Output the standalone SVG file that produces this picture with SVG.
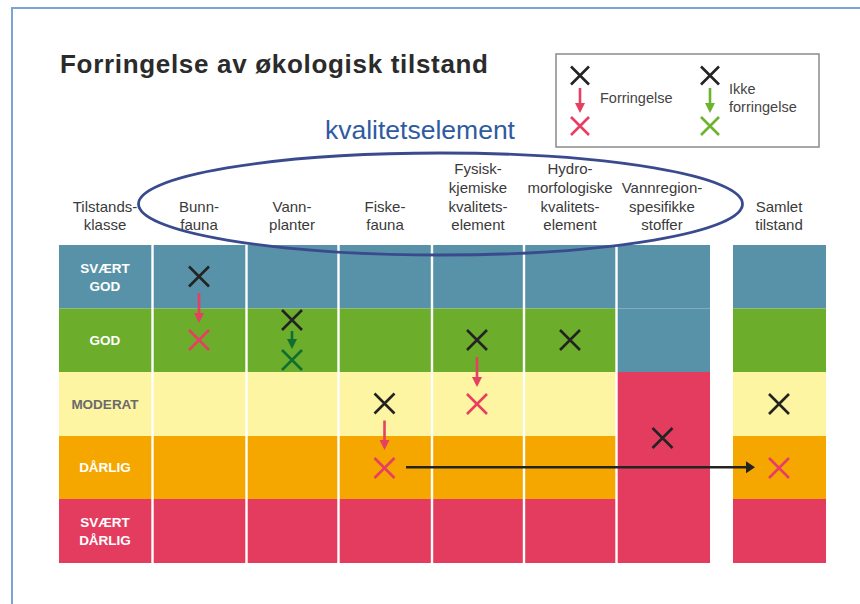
<svg xmlns="http://www.w3.org/2000/svg" width="860" height="604" viewBox="0 0 860 604">
<style>
.hdr{font-family:"Liberation Sans",Arial,sans-serif;font-size:15px;fill:#3a3a3a;text-anchor:middle}
.lbl{font-family:"Liberation Sans",Arial,sans-serif;font-size:13.5px;font-weight:bold;fill:#ffffff;text-anchor:middle}
.lbl.mod{fill:#6b6b6b}
.leg{font-family:"Liberation Sans",Arial,sans-serif;font-size:14.5px;fill:#444444}
.xk{fill:none;stroke:#232323;stroke-width:2.6}
.xr{fill:none;stroke:#e63f62;stroke-width:2.6}
.xg{fill:none;stroke:#0f6e30;stroke-width:2.6}
.xlg{fill:none;stroke:#6cb42c;stroke-width:2.6}
.ar{stroke:#e63f62;stroke-width:2.6;fill:none}
.ag{stroke:#0f6e30;stroke-width:2.6;fill:none}
.alg{stroke:#6cb42c;stroke-width:2.6;fill:none}
.sep{stroke:#ffffff;stroke-width:2.4}
.b{fill:#5892a8}.g{fill:#6cae2b}.y{fill:#fdf5a1}.o{fill:#f5a700}.r{fill:#e43c5e}
</style>
<defs>
<path id="xm" d="M-10,-10 L10,10 M10,-10 L-10,10"/>
<path id="xs" d="M-9,-9 L9,9 M9,-9 L-9,9"/>
<marker id="hr" viewBox="0 0 10 10" refX="7" refY="5" markerWidth="10" markerHeight="10" markerUnits="userSpaceOnUse" orient="auto"><path d="M0,0 L10,5 L0,10 Z" fill="#e63f62"/></marker>
<marker id="hg" viewBox="0 0 10 10" refX="7" refY="5" markerWidth="10" markerHeight="10" markerUnits="userSpaceOnUse" orient="auto"><path d="M0,0 L10,5 L0,10 Z" fill="#0f6e30"/></marker>
<marker id="hlg" viewBox="0 0 10 10" refX="7" refY="5" markerWidth="10" markerHeight="10" markerUnits="userSpaceOnUse" orient="auto"><path d="M0,0 L10,5 L0,10 Z" fill="#6cb42c"/></marker>
<marker id="hk" viewBox="0 0 9 12" refX="6" refY="6" markerWidth="9" markerHeight="12" markerUnits="userSpaceOnUse" orient="auto"><path d="M0,0 L9,6 L0,12 Z" fill="#232323"/></marker>
</defs>

<rect width="860" height="604" fill="#ffffff"/>
<rect x="12" y="8" width="900" height="700" fill="none" stroke="#7aa3d6" stroke-width="2"/>

<text x="60" y="73" font-family="'Liberation Sans',Arial,sans-serif" font-size="26" font-weight="bold" fill="#2b2b2b" textLength="428" lengthAdjust="spacing">Forringelse av økologisk tilstand</text>

<g id="legend">
<rect x="556" y="54" width="263" height="93" fill="#ffffff" stroke="#8a8a8a" stroke-width="1.5"/>
<use href="#xs" x="580" y="75.5" class="xk"/>
<line x1="580" y1="88" x2="580" y2="110" class="ar" marker-end="url(#hr)"/>
<use href="#xs" x="580" y="126" class="xr"/>
<text x="600" y="103" class="leg">Forringelse</text>
<use href="#xs" x="710" y="75.5" class="xk"/>
<line x1="710" y1="88" x2="710" y2="110" class="alg" marker-end="url(#hlg)"/>
<use href="#xs" x="710" y="126" class="xlg"/>
<text x="729" y="94" class="leg">Ikke</text>
<text x="729" y="112" class="leg">forringelse</text>
</g>

<g id="headers">
<text class="hdr" x="105" y="212">Tilstands-</text>
<text class="hdr" x="105" y="230">klasse</text>
<text class="hdr" x="199" y="212">Bunn-</text>
<text class="hdr" x="199" y="230">fauna</text>
<text class="hdr" x="292" y="212">Vann-</text>
<text class="hdr" x="292" y="230">planter</text>
<text class="hdr" x="385" y="212">Fiske-</text>
<text class="hdr" x="385" y="230">fauna</text>
<text class="hdr" x="478" y="174">Fysisk-</text>
<text class="hdr" x="478" y="193">kjemiske</text>
<text class="hdr" x="478" y="212">kvalitets-</text>
<text class="hdr" x="478" y="230">element</text>
<text class="hdr" x="570" y="174">Hydro-</text>
<text class="hdr" x="570" y="193">morfologiske</text>
<text class="hdr" x="570" y="212">kvalitets-</text>
<text class="hdr" x="570" y="230">element</text>
<text class="hdr" x="662" y="193">Vannregion-</text>
<text class="hdr" x="662" y="212">spesifikke</text>
<text class="hdr" x="662" y="230">stoffer</text>
<text class="hdr" x="779" y="212">Samlet</text>
<text class="hdr" x="779" y="230">tilstand</text>
</g>

<g id="grid">
<rect class="b" x="59" y="245" width="651" height="63.5"/>
<rect class="g" x="59" y="308.5" width="558" height="63.5"/>
<rect class="y" x="59" y="372" width="558" height="64"/>
<rect class="o" x="59" y="436" width="558" height="63"/>
<rect class="r" x="59" y="499" width="651" height="64"/>
<rect class="b" x="617" y="308.5" width="93" height="63.5"/>
<rect class="r" x="617" y="372" width="93" height="127"/>
<rect class="b" x="733" y="245" width="93" height="63.5"/>
<rect class="g" x="733" y="308.5" width="93" height="63.5"/>
<rect class="y" x="733" y="372" width="93" height="64"/>
<rect class="o" x="733" y="436" width="93" height="63"/>
<rect class="r" x="733" y="499" width="93" height="64"/>
<line class="sep" x1="152.5" y1="244" x2="152.5" y2="564"/>
<line class="sep" x1="246.5" y1="244" x2="246.5" y2="564"/>
<line class="sep" x1="338.5" y1="244" x2="338.5" y2="564"/>
<line class="sep" x1="432" y1="244" x2="432" y2="564"/>
<line class="sep" x1="524" y1="244" x2="524" y2="564"/>
<line class="sep" x1="616.5" y1="244" x2="616.5" y2="564"/>
</g>

<g id="row-labels">
<text class="lbl" x="105" y="273">SVÆRT</text>
<text class="lbl" x="105" y="291">GOD</text>
<text class="lbl" x="105" y="345">GOD</text>
<text class="lbl mod" x="105" y="409">MODERAT</text>
<text class="lbl" x="105" y="472">DÅRLIG</text>
<text class="lbl" x="105" y="527">SVÆRT</text>
<text class="lbl" x="105" y="545">DÅRLIG</text>
</g>

<g id="marks">
<use href="#xm" x="199" y="276.5" class="xk"/>
<use href="#xm" x="199" y="340" class="xr"/>
<use href="#xm" x="292" y="320" class="xk"/>
<use href="#xm" x="292" y="360" class="xg"/>
<use href="#xm" x="384.5" y="403.5" class="xk"/>
<use href="#xm" x="384.5" y="468" class="xr"/>
<use href="#xm" x="477" y="340" class="xk"/>
<use href="#xm" x="477" y="404" class="xr"/>
<use href="#xm" x="570" y="340" class="xk"/>
<use href="#xm" x="662.5" y="438" class="xk"/>
<use href="#xm" x="779" y="404" class="xk"/>
<use href="#xm" x="779" y="468" class="xr"/>
</g>

<g id="connectors">
<line x1="199" y1="293" x2="199" y2="320" class="ar" marker-end="url(#hr)"/>
<line x1="292" y1="331" x2="292" y2="346" class="ag" marker-end="url(#hg)"/>
<line x1="384.5" y1="420.5" x2="384.5" y2="447" class="ar" marker-end="url(#hr)"/>
<line x1="477" y1="357" x2="477" y2="384" class="ar" marker-end="url(#hr)"/>
<line x1="406" y1="467.3" x2="752" y2="467.3" stroke="#232323" stroke-width="2.6" marker-end="url(#hk)"/>
</g>

<g id="kvalitetselement">
<ellipse cx="440.5" cy="204" rx="302" ry="51" fill="none" stroke="#3a4a8e" stroke-width="2.8"/>
<text x="420" y="139" font-family="'Liberation Sans',Arial,sans-serif" font-size="26.5" fill="#2f5b9f" text-anchor="middle">kvalitetselement</text>
</g>
</svg>
